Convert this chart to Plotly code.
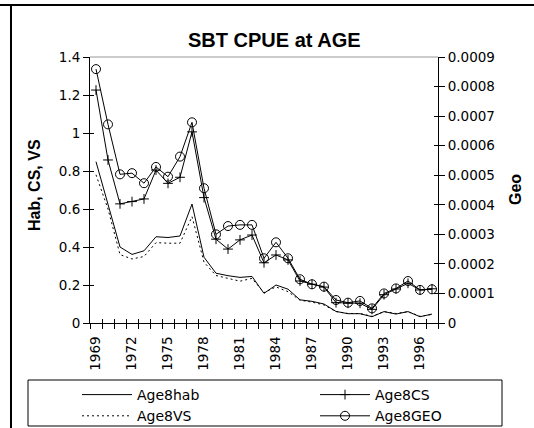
import plotly.graph_objects as go

years = list(range(1969, 1998))
age8_hab = [0.849, 0.63, 0.40, 0.361, 0.38, 0.454, 0.45, 0.458, 0.626, 0.346,
            0.262, 0.249, 0.24, 0.245, 0.156, 0.20, 0.178, 0.122, 0.114, 0.10,
            0.061, 0.049, 0.049, 0.033, 0.06, 0.047, 0.06, 0.033, 0.047]
age8_vs = [0.78, 0.60, 0.36, 0.337, 0.35, 0.423, 0.42, 0.42, 0.56, 0.32,
           0.25, 0.235, 0.22, 0.235, 0.16, 0.19, 0.165, 0.12, 0.11, 0.095,
           0.06, 0.05, 0.05, 0.035, 0.06, 0.05, 0.06, 0.035, 0.045]
age8_cs = [1.226, 0.858, 0.627, 0.639, 0.653, 0.805, 0.735, 0.767, 1.006, 0.66,
           0.441, 0.389, 0.4375, 0.463, 0.317, 0.358, 0.332, 0.221, 0.204, 0.189,
           0.107, 0.104, 0.104, 0.072, 0.149, 0.179, 0.209, 0.174, 0.18]
age8_geo = [0.000859, 0.000672, 0.000503, 0.000507, 0.000473, 0.000528, 0.000495,
            0.000563, 0.000679, 0.000456, 0.000300, 0.000328, 0.000332, 0.000332,
            0.000219, 0.000273, 0.000219, 0.000148, 0.000131, 0.000123, 0.0000778,
            0.0000688, 0.0000746, 0.0000495, 0.000100, 0.000117, 0.000142,
            0.000112, 0.000114]

left_ticks = [0, 0.2, 0.4, 0.6, 0.8, 1, 1.2, 1.4]
right_ticks = [0, 0.0001, 0.0002, 0.0003, 0.0004, 0.0005, 0.0006, 0.0007, 0.0008, 0.0009]
right_tick_text = ["0", "0.0001", "0.0002", "0.0003", "0.0004", "0.0005",
                   "0.0006", "0.0007", "0.0008", "0.0009"]
year_labels = years[::3]

W, H = 534, 428
L, R, T, B = 90, 438, 57, 323


def px(x):
    return (x - L) / (R - L)


def py(y):
    return (B - y) / (B - T)


TICKFONT = dict(family="DejaVu Sans", size=13.5, color="black")
LEGFONT = dict(family="DejaVu Sans", size=14, color="black")
XRANGE = [years[0] - 0.5, years[-1] + 0.5]
LRANGE = [0, 1.4]
RRANGE = [0, 0.0009]

fig = go.Figure()
fig.add_trace(go.Scatter(x=years, y=age8_hab, name="Age8hab", mode="lines",
                         line=dict(color="black", width=1), legend="legend"))
fig.add_trace(go.Scatter(x=years, y=age8_vs, name="Age8VS", mode="lines",
                         line=dict(color="black", width=1, dash="2px,3px"), legend="legend"))
fig.add_trace(go.Scatter(x=years, y=age8_cs, name="Age8CS", mode="lines+markers",
                         line=dict(color="black", width=1),
                         marker=dict(symbol="cross-thin", size=7,
                                     line=dict(color="black", width=1)),
                         legend="legend2"))
fig.add_trace(go.Scatter(x=years, y=age8_geo, name="Age8GEO", mode="lines+markers",
                         yaxis="y2",
                         line=dict(color="black", width=1),
                         marker=dict(symbol="circle-open", size=9,
                                     line=dict(color="black", width=1)),
                         legend="legend2"))
# invisible helpers so that the inner halves of the cross tick marks get drawn
fig.add_trace(go.Scatter(x=[None], y=[None], xaxis="x2", yaxis="y3",
                         showlegend=False, hoverinfo="skip"))
fig.add_trace(go.Scatter(x=[None], y=[None], xaxis="x2", yaxis="y4",
                         showlegend=False, hoverinfo="skip"))

fig.update_layout(
    width=W, height=H,
    margin=dict(l=L, r=W - R, t=T, b=H - B, pad=0, autoexpand=False),
    paper_bgcolor="white", plot_bgcolor="white",
    font=dict(family="DejaVu Sans", color="black"),
    xaxis=dict(range=XRANGE, showgrid=False, zeroline=False,
               showline=True, linecolor="black", linewidth=1,
               tickmode="array", tickvals=year_labels,
               ticktext=[str(y) for y in year_labels], tickangle=-90,
               ticks="outside", ticklen=7, tickcolor="rgba(0,0,0,0)",
               tickfont=TICKFONT,
               minor=dict(tickmode="linear", tick0=years[0] - 0.5, dtick=1,
                          ticks="outside", ticklen=5, tickcolor="black", showgrid=False)),
    xaxis2=dict(range=XRANGE, overlaying="x", anchor="y", side="bottom",
                showgrid=False, zeroline=False, showline=False, showticklabels=False,
                tickmode="linear", tick0=years[0] - 0.5, dtick=1,
                ticks="inside", ticklen=4, tickcolor="black"),
    yaxis=dict(range=LRANGE, tickvals=left_ticks, showgrid=False, zeroline=False,
               showline=True, linecolor="black", linewidth=1,
               ticks="outside", ticklen=6, tickcolor="black", tickfont=TICKFONT),
    yaxis2=dict(range=RRANGE, overlaying="y", side="right", anchor="x",
                tickvals=right_ticks, ticktext=right_tick_text,
                showgrid=False, zeroline=False,
                showline=True, linecolor="black", linewidth=1,
                ticks="outside", ticklen=6, tickcolor="black", tickfont=TICKFONT),
    yaxis3=dict(range=LRANGE, overlaying="y", side="left", anchor="x2",
                tickvals=left_ticks, showgrid=False, zeroline=False, showline=False,
                showticklabels=False, ticks="inside", ticklen=4, tickcolor="black"),
    yaxis4=dict(range=RRANGE, overlaying="y", side="right", anchor="x2",
                tickvals=right_ticks, showgrid=False, zeroline=False, showline=False,
                showticklabels=False, ticks="inside", ticklen=4, tickcolor="black"),
    legend=dict(x=px(77), y=py(379), xanchor="left", yanchor="top",
                bgcolor="rgba(0,0,0,0)", font=LEGFONT, itemwidth=50,
                tracegroupgap=0),
    legend2=dict(x=px(315), y=py(379), xanchor="left", yanchor="top",
                 bgcolor="rgba(0,0,0,0)", font=LEGFONT, itemwidth=50,
                 tracegroupgap=0),
    showlegend=True,
)

shapes = [
    dict(type="line", xref="paper", yref="paper", x0=0, x1=1, y0=1, y1=1,
         line=dict(color="#999999", width=1)),
    dict(type="line", xref="paper", yref="paper", x0=px(0), x1=px(534), y0=py(5), y1=py(5),
         line=dict(color="black", width=2)),
    dict(type="line", xref="paper", yref="paper", x0=px(11), x1=px(11), y0=py(5), y1=py(428),
         line=dict(color="black", width=2)),
    dict(type="rect", xref="paper", yref="paper", x0=px(28), x1=px(502), y0=py(426), y1=py(380),
         line=dict(color="black", width=1), fillcolor="rgba(0,0,0,0)"),
]
fig.update_layout(shapes=shapes)

fig.add_annotation(text="<b>SBT CPUE at AGE</b>", xref="paper", yref="paper",
                   x=px(274), y=py(40), xanchor="center", yanchor="middle", showarrow=False,
                   font=dict(family="Liberation Sans, Arial", size=20, color="black"))
fig.add_annotation(text="<b>Hab, CS, VS</b>", xref="paper", yref="paper",
                   x=px(34), y=py(185), xanchor="center", yanchor="middle",
                   showarrow=False, textangle=-90,
                   font=dict(family="Liberation Sans, Arial", size=16, color="black"))
fig.add_annotation(text="<b>Geo</b>", xref="paper", yref="paper",
                   x=px(515), y=py(190), xanchor="center", yanchor="middle",
                   showarrow=False, textangle=-90,
                   font=dict(family="Liberation Sans, Arial", size=16, color="black"))

fig.write_html("out.html", config={"displayModeBar": False},
               post_script="document.body.style.margin='0px';")
